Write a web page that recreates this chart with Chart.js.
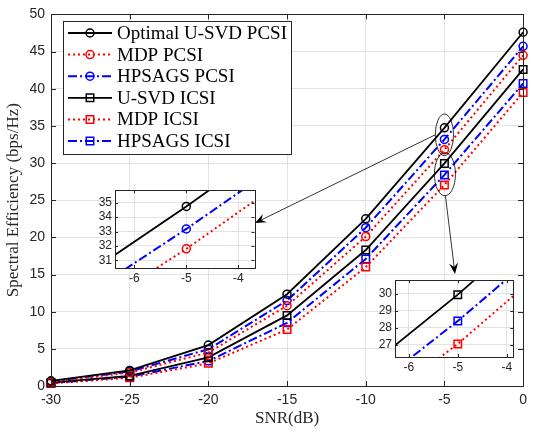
<!DOCTYPE html>
<html><head><meta charset="utf-8">
<script src="https://cdn.jsdelivr.net/npm/chart.js@4.4.0/dist/chart.umd.min.js"></script>
<style>
html,body{margin:0;padding:0;background:#fff;}
#wrap{position:relative;width:533px;height:432px;overflow:hidden;}
canvas{position:absolute;}
</style></head><body>
<div id="wrap">
<canvas id="main" width="533" height="432" style="left:0;top:0;width:533px;height:432px"></canvas>
<canvas id="in1" width="175" height="110" style="left:85px;top:180px;width:175px;height:110px"></canvas>
<canvas id="in2" width="155" height="110" style="left:365px;top:270px;width:155px;height:110px"></canvas>
</div>
<script>
// ---- data ----
const snr = [-30, -25, -20, -15, -10, -5, 0];
const optimalUsvdPcsi = [0.7, 2.1, 5.5, 12.35, 22.5, 34.74, 47.6];
const mdpPcsi        = [0.55, 1.8, 4.5, 10.8, 20.1, 31.8, 44.5];
const hpsagsPcsi     = [0.6, 1.95, 4.95, 11.5, 21.3, 33.18, 45.7];
const usvdIcsi       = [0.45, 1.35, 3.85, 9.5, 18.3, 29.95, 42.6];
const mdpIcsi        = [0.35, 1.1, 3.05, 7.6, 16.0, 27.05, 39.5];
const hpsagsIcsi     = [0.4, 1.25, 3.36, 8.5, 17.1, 28.4, 40.7];
const seriesNames = ['Optimal U-SVD PCSI', 'MDP PCSI', 'HPSAGS PCSI', 'U-SVD ICSI', 'MDP ICSI', 'HPSAGS ICSI'];
const seriesValues = [optimalUsvdPcsi, mdpPcsi, hpsagsPcsi, usvdIcsi, mdpIcsi, hpsagsIcsi];
const xTicksMain = [-30, -25, -20, -15, -10, -5, 0];

// ---- styles ----
const styles = [
  {color:'#000000', dash:[], width:1.8, marker:'circle'},
  {color:'#ff0000', dash:[2,3], width:2, marker:'circle'},
  {color:'#0000ff', dash:[9,3,2,3], width:2, marker:'circle'},
  {color:'#000000', dash:[], width:1.8, marker:'rect'},
  {color:'#ff0000', dash:[2,3], width:2, marker:'rect'},
  {color:'#0000ff', dash:[9,3,2,3], width:2, marker:'rect'}
];
const TICK = '#262626';
const GRID = '#e3e3e3';

function makeDatasets(clip, which){
  return seriesValues.map((vals, i) => ({
    label: seriesNames[i],
    data: snr.map((x, j) => ({x: x, y: vals[j]})),
    borderColor: styles[i].color,
    borderWidth: styles[i].width,
    borderDash: styles[i].dash,
    pointStyle: styles[i].marker,
    pointRadius: styles[i].marker === 'rect' ? 5.3 : 4,
    pointBorderWidth: 1.5,
    pointBorderColor: styles[i].color,
    pointBackgroundColor: 'rgba(255,255,255,0)',
    fill: false,
    tension: 0,
    clip: clip
  })).filter((d, i) => !which || which.includes(i));
}

function drawMarker(ctx, type, x, y, color){
  ctx.save();
  ctx.setLineDash([]);
  ctx.strokeStyle = color;
  ctx.lineWidth = 1.5;
  ctx.beginPath();
  if (type === 'circle') ctx.arc(x, y, 4, 0, Math.PI*2);
  else ctx.rect(x-3.75, y-3.75, 7.5, 7.5);
  ctx.stroke();
  ctx.restore();
}

function drawBoxTicks(chart, len){
  const {ctx, chartArea: a, scales} = chart;
  ctx.save();
  ctx.strokeStyle = TICK;
  ctx.lineWidth = 1;
  ctx.setLineDash([]);
  ctx.beginPath();
  scales.x.ticks.forEach(t => {
    const px = Math.round(scales.x.getPixelForValue(t.value)) + 0.5;
    ctx.moveTo(px, a.bottom); ctx.lineTo(px, a.bottom - len);
    ctx.moveTo(px, a.top); ctx.lineTo(px, a.top + len);
  });
  scales.y.ticks.forEach(t => {
    const py = Math.round(scales.y.getPixelForValue(t.value)) + 0.5;
    ctx.moveTo(a.left, py); ctx.lineTo(a.left + len, py);
    ctx.moveTo(a.right, py); ctx.lineTo(a.right - len, py);
  });
  ctx.stroke();
  ctx.strokeRect(Math.round(a.left)+0.5, Math.round(a.top)+0.5, Math.round(a.right-a.left), Math.round(a.bottom-a.top));
  ctx.restore();
}

function arrow(ctx, x1, y1, x2, y2){
  const ang = Math.atan2(y2-y1, x2-x1);
  const L = 11, W = 4.5, N = 7;
  ctx.save();
  ctx.strokeStyle = '#000'; ctx.fillStyle = '#000'; ctx.lineWidth = 0.8; ctx.setLineDash([]);
  ctx.beginPath(); ctx.moveTo(x1, y1);
  ctx.lineTo(x2 - Math.cos(ang)*N, y2 - Math.sin(ang)*N); ctx.stroke();
  const bx = x2 - Math.cos(ang)*L, by = y2 - Math.sin(ang)*L;
  const nx = -Math.sin(ang), ny = Math.cos(ang);
  ctx.beginPath();
  ctx.moveTo(x2, y2);
  ctx.lineTo(bx + nx*W, by + ny*W);
  ctx.lineTo(x2 - Math.cos(ang)*N, y2 - Math.sin(ang)*N);
  ctx.lineTo(bx - nx*W, by - ny*W);
  ctx.closePath(); ctx.fill();
  ctx.restore();
}

const mainPlugin = {
  id: 'mainDeco',
  beforeDraw(chart){
    const ctx = chart.ctx;
    ctx.save(); ctx.fillStyle = '#fff'; ctx.fillRect(0, 0, chart.width, chart.height); ctx.restore();
  },
  afterDraw(chart){
    const {ctx, scales} = chart;
    drawBoxTicks(chart, 5);
    // ellipses around the -5 dB points
    const cx = scales.x.getPixelForValue(-5);
    const sx = Math.abs(scales.x.getPixelForValue(1) - scales.x.getPixelForValue(0));
    const sy = Math.abs(scales.y.getPixelForValue(0) - scales.y.getPixelForValue(1));
    ctx.save();
    ctx.strokeStyle = '#000'; ctx.lineWidth = 0.8; ctx.setLineDash([]);
    const e1y = scales.y.getPixelForValue(33.8), e2y = scales.y.getPixelForValue(28.5);
    ctx.beginPath(); ctx.ellipse(cx, e1y, 0.58*sx, 2.8*sy, 0, 0, Math.PI*2); ctx.stroke();
    ctx.beginPath(); ctx.ellipse(cx+0.5, e2y, 0.67*sx, 2.9*sy, 0, 0, Math.PI*2); ctx.stroke();
    ctx.restore();
    arrow(ctx, cx - 0.58*sx, e1y, 255, 223);
    arrow(ctx, cx + 1, e2y + 2.9*sy, 455, 274);
    // legend
    ctx.save();
    ctx.fillStyle = '#fff'; ctx.fillRect(63.5, 21.5, 228, 133);
    ctx.strokeStyle = TICK; ctx.lineWidth = 1; ctx.strokeRect(63.5, 21.5, 228, 133);
    ctx.font = '19px "Liberation Serif", "Times New Roman", serif';
    ctx.textBaseline = 'middle'; ctx.fillStyle = '#000';
    seriesNames.forEach((name, i) => {
      const y = 33 + i*21.6;
      const st = styles[i];
      ctx.save();
      ctx.strokeStyle = st.color; ctx.lineWidth = st.width; ctx.setLineDash(st.dash);
      ctx.beginPath(); ctx.moveTo(68, y); ctx.lineTo(112, y); ctx.stroke();
      ctx.restore();
      drawMarker(ctx, st.marker, 90, y, st.color);
      ctx.fillText(name, 117, y + 1);
    });
    ctx.restore();
  }
};

new Chart(document.getElementById('main'), {
  type: 'line',
  data: { datasets: makeDatasets(false) },
  plugins: [mainPlugin],
  options: {
    responsive: false, animation: false, devicePixelRatio: 1,
    layout: { padding: { top: 10, right: 4, left: 0, bottom: 0 } },
    plugins: { legend: { display: false }, tooltip: { enabled: false } },
    scales: {
      x: {
        type: 'linear', min: -30, max: 0,
        afterBuildTicks: s => { s.ticks = xTicksMain.map(v => ({value: v})); },
        afterFit: s => { s.height = 46; },
        ticks: { color: TICK, font: { family: '"Liberation Sans", Arial, sans-serif', size: 14 }, padding: 6 },
        grid: { color: GRID, drawTicks: false },
        border: { display: false },
        title: { display: true, text: 'SNR(dB)', color: TICK, font: { family: '"Liberation Serif", "Times New Roman", serif', size: 17 }, padding: { top: 0, bottom: 3 } }
      },
      y: {
        type: 'linear', min: 0, max: 50,
        afterFit: s => { s.width = 51; },
        ticks: { stepSize: 5, color: TICK, font: { family: '"Liberation Sans", Arial, sans-serif', size: 14 }, padding: 6 },
        grid: { color: GRID, drawTicks: false },
        border: { display: false },
        title: { display: true, text: 'Spectral Efficiency (bps/Hz)', color: TICK, font: { family: '"Liberation Serif", "Times New Roman", serif', size: 17 }, padding: { top: 3, bottom: 0 } }
      }
    }
  }
});

const insetPlugin = {
  id: 'insetDeco',
  beforeDraw(chart){
    const {ctx, chartArea: a} = chart;
    ctx.save(); ctx.fillStyle = '#fff'; ctx.fillRect(a.left, a.top, a.right-a.left, a.bottom-a.top); ctx.restore();
  },
  afterDraw(chart){ drawBoxTicks(chart, 3); }
};

function makeInset(id, which, xr, yr, padRight, axisH){
  return new Chart(document.getElementById(id), {
    type: 'line',
    data: { datasets: makeDatasets(0, which) },
    plugins: [insetPlugin],
    options: {
      responsive: false, animation: false, devicePixelRatio: 1,
      layout: { padding: { top: 4, right: padRight, left: 0, bottom: 0 } },
      plugins: { legend: { display: false }, tooltip: { enabled: false } },
      scales: {
        x: {
          type: 'linear', min: xr[0], max: xr[1],
          afterFit: s => { s.height = axisH; },
          ticks: { stepSize: 1, includeBounds: false, color: TICK, font: { family: '"Liberation Sans", Arial, sans-serif', size: 12 }, padding: 3 },
          grid: { color: GRID, drawTicks: false },
          border: { display: false }
        },
        y: {
          type: 'linear', min: yr[0], max: yr[1],
          afterFit: s => { s.width = 30; },
          ticks: { stepSize: 1, includeBounds: false, color: TICK, font: { family: '"Liberation Sans", Arial, sans-serif', size: 12 }, padding: 3 },
          grid: { color: GRID, drawTicks: false },
          border: { display: false }
        }
      }
    }
  });
}
makeInset('in1', [0, 1, 2], [-6.37, -3.69], [30.47, 35.87], 4, 22);
makeInset('in2', [3, 4, 5], [-6.28, -3.87], [26.28, 30.8], 5, 23);
</script>
</body></html>
